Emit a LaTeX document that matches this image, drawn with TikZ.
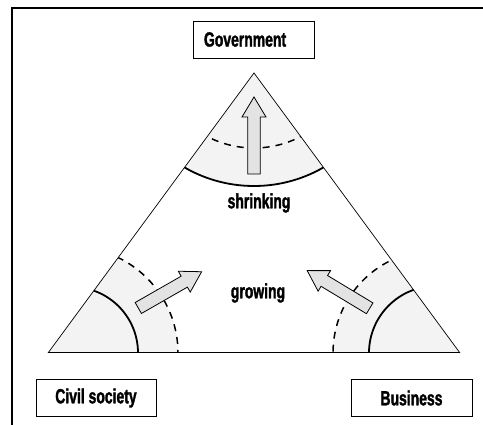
\documentclass[tikz,border=0pt]{standalone}
\usepackage{fontspec}
\newfontfamily\lblfont[FakeStretch=0.68,FakeBold=1.6]{Liberation Sans}
\definecolor{sector}{HTML}{F3F3F3}
\definecolor{arrfill}{HTML}{E3E3E3}
\begin{document}
\begin{tikzpicture}[x=1pt,y=-1pt,
  lbl/.style={font=\lblfont\bfseries\fontsize{20.5}{22}\selectfont},
  boxnode/.style={draw, line width=0.9pt, lbl, minimum height=37, inner ysep=0},
  solidarc/.style={line width=1.8pt},
  dasharc/.style={line width=1.5pt, dash pattern=on 7pt off 6pt},
  blockarr/.pic={\draw[line width=0.8pt, fill=arrfill]
     (0,-6.3) -- (#1-20,-6.3) -- (#1-20,-12) -- (#1,0) -- (#1-20,12) -- (#1-20,6.3) -- (0,6.3) -- cycle;}
]
\useasboundingbox (0,0) rectangle (483,425);
% outer frame
\draw[line width=1.2pt] (12,425) -- (12,8) -- (483,8);

% triangle corners
\coordinate (A) at (254,73);
\coordinate (L) at (48,353);
\coordinate (R) at (460,353);

% shaded sectors
\begin{scope}
  \clip (A) -- (L) -- (R) -- cycle;
  \fill[sector] (254,47) circle[radius=139];
  \fill[sector] (72,353) circle[radius=106];
  \fill[sector] (436,353) circle[radius=103];
  % arcs
  \draw[solidarc] (254,47) circle[radius=139];
  \draw[dasharc] (254,47) circle[radius=101];
  \draw[solidarc] (72,353) circle[radius=66];
  \draw[dasharc] (72,353) circle[radius=106];
  \draw[solidarc] (436,353) circle[radius=67];
  \draw[dasharc] (436,353) circle[radius=103];
\end{scope}
\draw[line width=0.7pt] (L) -- (A) -- (R);
\draw[line width=1pt] (L) -- (R);

% arrows
\pic[rotate=90] at (254,174) {blockarr=77};
\pic[rotate=29.8] at (138.3,308) {blockarr=73};
\pic[rotate=148.9] at (369.7,308.3) {blockarr=73};

% labels
\node[lbl] (shr) at (259,203) {shrinking};
\node[lbl] (gro) at (258,293) {growing};

% boxes
\node[boxnode, inner xsep=11, text width=99, align=left] (gov) at (253.5,39.5) {Government};
\node[boxnode, minimum width=120] (civ) at (96,398) {Civil society};
\node[boxnode, minimum width=121] (bus) at (411.5,398) {Business};
\end{tikzpicture}
\end{document}
